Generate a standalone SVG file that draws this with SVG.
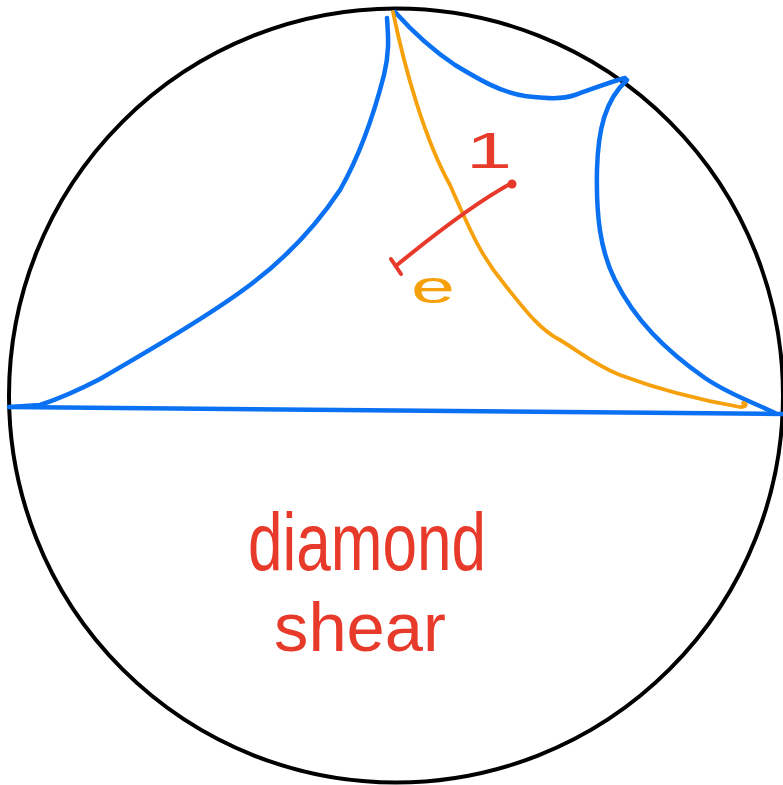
<svg xmlns="http://www.w3.org/2000/svg" width="783" height="785" viewBox="0 0 783 785">
<style>
.k{fill:none;stroke:#000;stroke-width:4}
.b{fill:none;stroke:#0a72f2;stroke-width:4.5;stroke-linecap:round;stroke-linejoin:round}
.o{fill:none;stroke:#f6a10c;stroke-width:3.8;stroke-linecap:round;stroke-linejoin:round}
.r{fill:none;stroke:#e83a2b;stroke-width:4;stroke-linecap:round;stroke-linejoin:round}
.tr{fill:#e83a2b;font-family:"Liberation Sans",Arial,sans-serif}
.to{fill:#f6a10c;font-family:"Liberation Sans",Arial,sans-serif}
</style>
<rect width="783" height="785" fill="#fff"/>
<g id="disk">
<circle class="k" cx="396" cy="395.5" r="387"/>
</g>
<g id="geodesics">
<path class="b" d="M9,407 L783,414"/>
<path class="b" d="M10,407 L40,405 C55,400 75,392 100,379 C150,350 210,315 250,285 C290,255 320,220 340,190 C360,155 375,110 384,75 C390,50 388,35 387,18"/>
<path class="b" d="M395,12 C420,40 440,55 455,65 C480,80 500,92 525,96 C545,98 560,100 575,95 C595,88 610,82 625,78"/>
<path class="b" d="M627,80 C605,100 598,130 597,170 C596,215 600,250 615,280 C635,320 665,350 705,378 C730,395 755,403 775,413"/>
<path class="o" d="M393,12 C405,70 425,140 450,185 C470,230 480,255 505,285 C525,310 540,330 560,340 C580,352 595,365 620,375 C660,390 700,400 740,407 C747,407 747,403 743,403"/>
</g>
<g id="shear-marker">
<path class="r" d="M512,183 C480,200 440,230 397,265"/>
<path class="r" d="M391,259 L401,274"/>
<circle cx="512" cy="184" r="4.5" fill="#e83a2b"/>
</g>
<g id="labels">
<text class="tr" x="466" y="168" font-size="50" textLength="46" lengthAdjust="spacingAndGlyphs">1</text>
<text class="to" x="411" y="303" font-size="46" textLength="44" lengthAdjust="spacingAndGlyphs">e</text>
<text class="tr" x="248" y="570" font-size="82" textLength="238" lengthAdjust="spacingAndGlyphs">diamond</text>
<text class="tr" x="274" y="651" font-size="68" textLength="172" lengthAdjust="spacingAndGlyphs">shear</text>
</g>
</svg>
